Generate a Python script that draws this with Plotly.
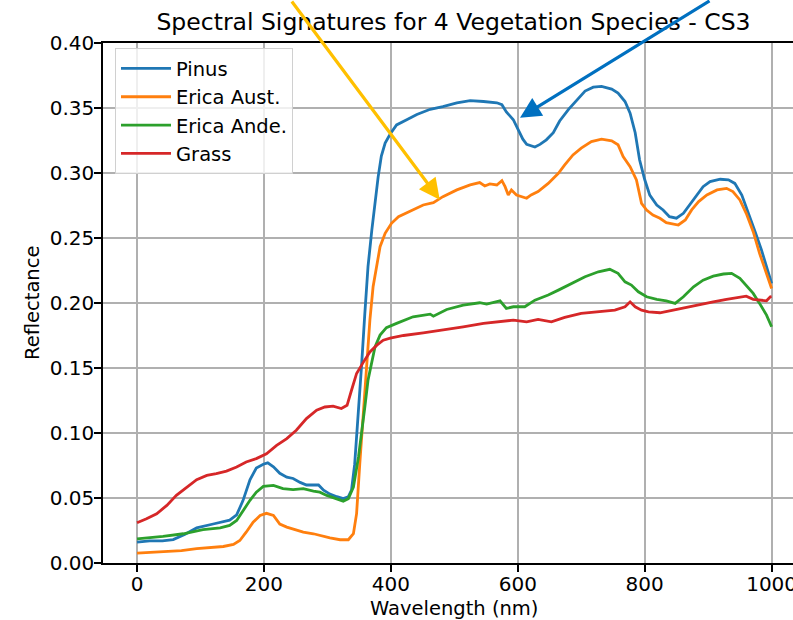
import plotly.graph_objects as go

# ---------------- data ----------------
pinus_wl = [0, 20, 40, 57, 75, 94, 120, 146, 157, 167, 178, 188, 199, 206, 215, 225, 236, 246, 257,
            267, 278, 286, 294, 304, 315, 325, 333, 338, 343, 349, 354, 359, 364, 370, 375, 380, 385,
            391, 399, 409, 425, 441, 462, 482, 504, 525, 546, 567, 575, 582, 593, 600, 608, 614, 619,
            627, 635, 645, 656, 666, 680, 693, 706, 719, 732, 748, 758, 769, 777, 785, 792, 800, 808,
            819, 829, 839, 850, 861, 871, 882, 892, 903, 919, 932, 942, 953, 963, 974, 984, 995, 1000]
pinus_refl = [0.016, 0.017, 0.017, 0.018, 0.022, 0.027, 0.030, 0.033, 0.037, 0.048, 0.064, 0.073, 0.076,
              0.077, 0.074, 0.069, 0.066, 0.065, 0.062, 0.060, 0.060, 0.060, 0.056, 0.053, 0.051, 0.0495,
              0.051, 0.056, 0.076, 0.115, 0.153, 0.192, 0.228, 0.256, 0.279, 0.297, 0.313, 0.323, 0.330,
              0.337, 0.341, 0.345, 0.349, 0.351, 0.354, 0.3556, 0.355, 0.354, 0.3525, 0.347, 0.341,
              0.3345, 0.326, 0.322, 0.321, 0.320, 0.322, 0.3255, 0.331, 0.340, 0.349, 0.356, 0.363,
              0.366, 0.3666, 0.3645, 0.3615, 0.355, 0.346, 0.331, 0.310, 0.295, 0.283, 0.2754, 0.2716,
              0.2664, 0.2652, 0.269, 0.2754, 0.283, 0.2895, 0.2934, 0.2952, 0.2947, 0.292, 0.283,
              0.2703, 0.2549, 0.2408, 0.224, 0.215]

erica_aust_wl = [0, 20, 41, 70, 94, 136, 152, 162, 172, 183, 194, 204, 215, 225, 236, 246, 262, 278, 288,
                 304, 320, 333, 341, 346, 351, 357, 362, 367, 372, 378, 383, 391, 401, 412, 430, 451, 467,
                 482, 504, 525, 540, 548, 556, 567, 575, 580, 585, 590, 598, 606, 614, 621, 632, 648, 664,
                 674, 687, 700, 716, 732, 748, 758, 766, 777, 787, 795, 803, 813, 824, 834, 845, 853, 864,
                 874, 885, 898, 914, 929, 939, 950, 960, 971, 981, 992, 1000]
erica_aust_refl = [0.0076, 0.008, 0.0085, 0.0095, 0.011, 0.0127, 0.0143, 0.0173, 0.0237, 0.0314, 0.0366,
                   0.0382, 0.0366, 0.030, 0.0276, 0.0263, 0.0237, 0.0225, 0.0212, 0.0194, 0.0179, 0.0179,
                   0.0225, 0.038, 0.076, 0.120, 0.156, 0.187, 0.2125, 0.2305, 0.2433, 0.2536, 0.2613,
                   0.2664, 0.2703, 0.2754, 0.2772, 0.2818, 0.287, 0.2908, 0.2926, 0.290, 0.2916, 0.2908,
                   0.2941, 0.2895, 0.2831, 0.287, 0.2831, 0.2818, 0.2806, 0.2831, 0.2857, 0.292, 0.2998,
                   0.3062, 0.3139, 0.3191, 0.3242, 0.326, 0.3247, 0.3217, 0.3126, 0.3049, 0.2947, 0.2767,
                   0.2715, 0.2677, 0.2652, 0.2618, 0.2608, 0.260, 0.2639, 0.2716, 0.278, 0.2831, 0.287,
                   0.2882, 0.2857, 0.2793, 0.269, 0.2549, 0.2382, 0.2215, 0.2112]

erica_ande_wl = [0, 41, 73, 104, 131, 146, 157, 167, 178, 188, 199, 215, 230, 246, 262, 278, 288, 299, 315,
                 325, 333, 341, 349, 354, 359, 364, 370, 375, 383, 393, 409, 435, 462, 467, 488, 514, 540,
                 551, 572, 582, 593, 611, 627, 648, 664, 685, 706, 727, 745, 758, 769, 779, 790, 803, 819,
                 834, 848, 861, 877, 892, 908, 924, 937, 950, 960, 971, 981, 992, 1000]
erica_ande_refl = [0.0186, 0.0204, 0.0225, 0.0256, 0.0271, 0.0289, 0.0327, 0.0404, 0.0482, 0.0545, 0.0589,
                   0.0597, 0.0572, 0.0564, 0.0572, 0.0553, 0.0545, 0.052, 0.0495, 0.0476, 0.0495, 0.0584,
                   0.0815, 0.0995, 0.120, 0.1406, 0.156, 0.1662, 0.1753, 0.1810, 0.1843, 0.1894, 0.1914,
                   0.1899, 0.195, 0.1984, 0.2002, 0.1992, 0.2017, 0.1958, 0.1971, 0.1971, 0.2022, 0.2061,
                   0.2099, 0.2151, 0.2202, 0.224, 0.2259, 0.2228, 0.2163, 0.2138, 0.2086, 0.2048, 0.2028,
                   0.2017, 0.1997, 0.2048, 0.2125, 0.2176, 0.2207, 0.2223, 0.2228, 0.219, 0.2138, 0.2074,
                   0.1997, 0.1907, 0.1817]

grass_wl = [0, 15, 31, 47, 62, 78, 94, 110, 125, 141, 157, 172, 188, 204, 220, 236, 251, 267, 283, 296,
            309, 322, 331, 338, 346, 357, 367, 378, 388, 399, 420, 451, 482, 514, 546, 572, 593, 614, 632,
            653, 674, 700, 727, 753, 769, 777, 785, 795, 806, 824, 845, 866, 887, 908, 929, 950, 960, 971,
            981, 992, 998, 1000]
grass_refl = [0.031, 0.034, 0.0379, 0.0443, 0.052, 0.0584, 0.0641, 0.0674, 0.0687, 0.0707, 0.0738, 0.0777,
              0.0803, 0.0840, 0.0905, 0.0957, 0.1021, 0.1111, 0.1175, 0.120, 0.1206, 0.1188, 0.1213,
              0.1329, 0.1458, 0.1547, 0.1624, 0.1676, 0.1714, 0.1730, 0.175, 0.177, 0.1796, 0.1817,
              0.1843, 0.1855, 0.1868, 0.1855, 0.1874, 0.1855, 0.1889, 0.192, 0.1932, 0.1945, 0.1971,
              0.2009, 0.1971, 0.1945, 0.1932, 0.1925, 0.1945, 0.1966, 0.1992, 0.2009, 0.2028, 0.2043,
              0.2053, 0.2028, 0.2022, 0.2017, 0.2048, 0.205]

series_names = ["Pinus", "Erica Aust.", "Erica Ande.", "Grass"]
x_ticks = [0, 200, 400, 600, 800, 1000]
y_ticks = [0.00, 0.05, 0.10, 0.15, 0.20, 0.25, 0.30, 0.35, 0.40]

# arrow targets (data coordinates)
yellow_arrow_target = (477, 0.2795)
blue_arrow_target = (603.5, 0.3425)

# ---------------- figure ----------------
colors = ["#1f77b4", "#ff7f0e", "#2ca02c", "#d62728"]
FONT = "DejaVu Sans"

fig = go.Figure()
for name, wl, refl, col in zip(series_names,
                               [pinus_wl, erica_aust_wl, erica_ande_wl, grass_wl],
                               [pinus_refl, erica_aust_refl, erica_ande_refl, grass_refl],
                               colors):
    fig.add_trace(go.Scatter(x=wl, y=refl, mode="lines", name=name,
                             line=dict(color=col, width=2.8)))

axis_common = dict(showgrid=True, gridcolor="#b0b0b0", gridwidth=1.5, zeroline=False,
                   showline=True, linecolor="black", linewidth=1.5,
                   ticks="outside", ticklen=7, tickwidth=1.5, tickcolor="black",
                   ticklabeloverflow="allow", automargin=False,
                   tickfont=dict(family=FONT, size=20, color="black"))

fig.update_layout(
    width=793, height=620, autosize=False,
    margin=dict(l=103, r=0, t=43, b=57, pad=0, autoexpand=False),
    paper_bgcolor="white", plot_bgcolor="white",
    font=dict(family=FONT, color="black"),
    title=dict(text="Spectral Signatures for 4 Vegetation Species - CS3",
               font=dict(family=FONT, size=23.5, color="black"),
               x=0.508, xref="paper", xanchor="center",
               y=1 - 22 / 620, yref="container", yanchor="middle"),
    xaxis=dict(range=[-53.6, 1033.7], tickvals=x_ticks, ticktext=[str(v) for v in x_ticks],
               mirror=True, ticklabelstandoff=-5, **axis_common),
    yaxis=dict(range=[0, 0.40], tickvals=y_ticks, ticktext=["%.2f" % v for v in y_ticks],
               mirror=False, ticklabelstandoff=-4, **axis_common),
    legend=dict(x=0.0174, y=0.99, xanchor="left", yanchor="top",
                bgcolor="rgba(255,255,255,0.8)", bordercolor="#d0d0d0", borderwidth=1,
                font=dict(family=FONT, size=19.5, color="black"),
                itemwidth=50, tracegroupgap=0),
    showlegend=True,
)

# axis titles as annotations positioned like the reference
fig.add_annotation(text="Wavelength (nm)", xref="paper", yref="paper",
                   x=0.508, y=(562.5 - 608) / 520, xanchor="center", yanchor="middle",
                   showarrow=False, font=dict(family=FONT, size=19.5, color="black"))
fig.add_annotation(text="Reflectance", xref="paper", yref="paper",
                   x=-0.103, y=0.5, xanchor="center", yanchor="middle", textangle=-90,
                   showarrow=False, font=dict(family=FONT, size=19.5, color="black"))

# arrows pointing at features of the curves
fig.add_annotation(x=yellow_arrow_target[0], y=yellow_arrow_target[1], xref="x", yref="y",
                   text="", showarrow=True, arrowhead=2, arrowsize=1.3, arrowwidth=3.2,
                   arrowcolor="#FFC000", ax=-149, ay=-222, standoff=0)
fig.add_annotation(x=blue_arrow_target[0], y=blue_arrow_target[1], xref="x", yref="y",
                   text="", showarrow=True, arrowhead=2, arrowsize=1.3, arrowwidth=3.2,
                   arrowcolor="#0070C0", ax=191, ay=-138, standoff=0)

fig.write_html("out.html",
               config={"displayModeBar": False},
               post_script="document.body.style.margin='0px';document.body.style.overflow='hidden';")
